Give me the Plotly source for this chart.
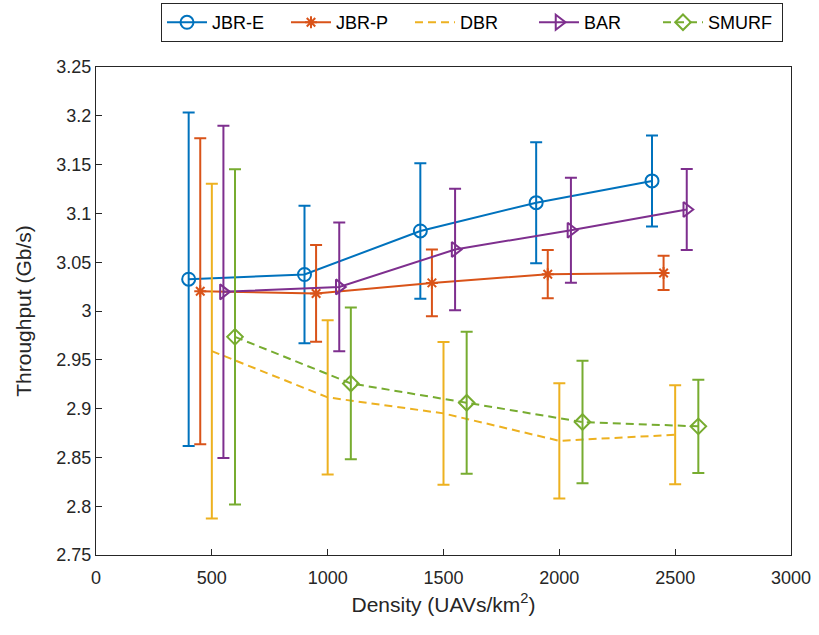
import plotly.graph_objects as go

# ---- data ----
x_jbre = [400, 900, 1400, 1900, 2400]
y_jbre = [3.0326, 3.0374, 3.082, 3.111, 3.1333]
e_jbre = [0.1708, 0.0704, 0.0695, 0.0620, 0.0466]

x_jbrp = [450, 950, 1450, 1950, 2450]
y_jbrp = [3.0203, 3.018, 3.0288, 3.0377, 3.039]
e_jbrp = [0.1568, 0.0495, 0.0343, 0.0247, 0.0176]

x_dbr = [500, 1000, 1500, 2000, 2500]
y_dbr = [2.9589, 2.9115, 2.8951, 2.867, 2.8732]
e_dbr = [0.1714, 0.0789, 0.0732, 0.0591, 0.0507]

x_bar = [550, 1050, 1550, 2050, 2550]
y_bar = [3.0196, 3.0247, 3.063, 3.0828, 3.104]
e_bar = [0.1703, 0.0659, 0.0622, 0.0538, 0.0414]

x_smurf = [600, 1100, 1600, 2100, 2600]
y_smurf = [2.9735, 2.9258, 2.906, 2.8862, 2.8818]
e_smurf = [0.1717, 0.0777, 0.0728, 0.0628, 0.0477]

names = ["JBR-E", "JBR-P", "DBR", "BAR", "SMURF"]
colors = ["#0072BD", "#D95319", "#EDB120", "#7E2F8E", "#77AC30"]
symbols = ["circle-open", "asterisk-open", None, "triangle-right-open", "diamond-open"]
sizes = [13, 10, 0, 13, 12]
dashes = ["solid", "solid", "8px,5px", "solid", "8px,5px"]

xticks = [0, 500, 1000, 1500, 2000, 2500, 3000]
yticks = [2.75, 2.8, 2.85, 2.9, 2.95, 3.0, 3.05, 3.1, 3.15, 3.2, 3.25]
yticktext = ["2.75", "2.8", "2.85", "2.9", "2.95", "3", "3.05", "3.1", "3.15", "3.2", "3.25"]

series = [(x_jbre, y_jbre, e_jbre), (x_jbrp, y_jbrp, e_jbrp), (x_dbr, y_dbr, e_dbr),
          (x_bar, y_bar, e_bar), (x_smurf, y_smurf, e_smurf)]

fig = go.Figure()
for (xs, ys, es), name, c, sym, sz, d in zip(series, names, colors, symbols, sizes, dashes):
    kw = dict(mode="lines")
    if sym is not None:
        kw = dict(mode="lines+markers",
                  marker=dict(symbol=sym, size=sz, color=c, line=dict(width=2, color=c)))
    fig.add_trace(go.Scatter(
        x=xs, y=ys, name=name,
        line=dict(color=c, width=2, dash=d),
        error_y=dict(type="data", array=es, visible=True, color=c, thickness=2, width=6),
        **kw))

axis_common = dict(showgrid=False, zeroline=False, showline=True, linecolor="#262626",
                   linewidth=1, mirror=True, ticks="inside", ticklen=6, tickcolor="#262626",
                   automargin=False,
                   tickfont=dict(size=18, color="#262626", family="Liberation Sans"))

fig.update_layout(
    width=819, height=635,
    margin=dict(l=96, r=28, t=67, b=80, autoexpand=False),
    paper_bgcolor="white", plot_bgcolor="white",
    font=dict(family="Liberation Sans", color="#262626"),
    xaxis=dict(range=[0, 3000], tickvals=xticks, ticklabelstandoff=6,
               title=dict(text="Density (UAVs/km<sup>2</sup>)", font=dict(size=21), standoff=10),
               **axis_common),
    yaxis=dict(range=[2.75, 3.25], tickvals=yticks, ticktext=yticktext,
               title=dict(text="Throughput (Gb/s)", font=dict(size=21), standoff=19),
               **axis_common),
    legend=dict(orientation="h", x=0.541, xanchor="center", y=1.131, yanchor="top",
                bordercolor="#262626", borderwidth=1, bgcolor="white",
                font=dict(size=18, color="#000000"), itemwidth=40,
                entrywidth=69, entrywidthmode="pixels"),
    showlegend=True,
)

fig.write_html("out.html")
